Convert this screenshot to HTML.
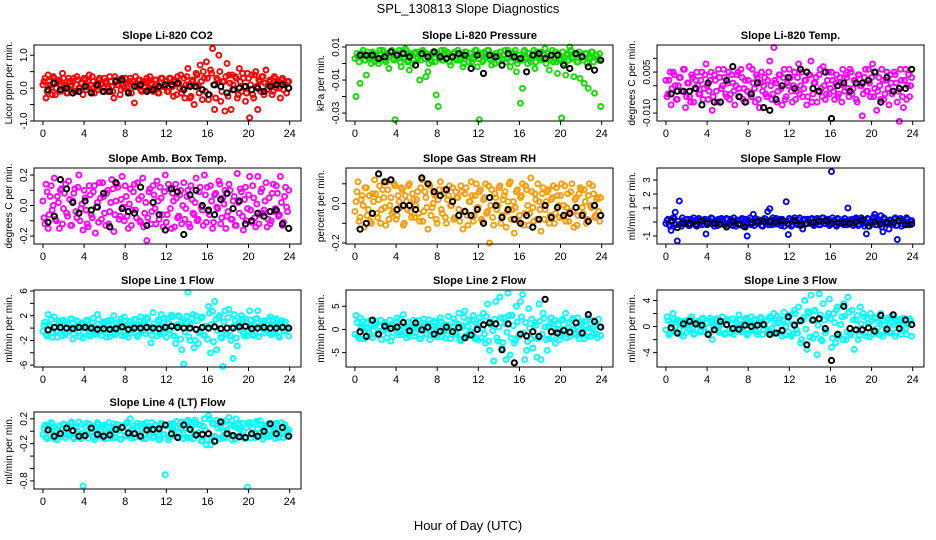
<!DOCTYPE html>
<html><head><meta charset="utf-8"><style>
html,body{margin:0;padding:0;background:#fff;}
svg{display:block;font-family:"Liberation Sans",sans-serif;}
</style></head><body>
<svg id="chart" width="936" height="540" viewBox="0 0 936 540" xmlns="http://www.w3.org/2000/svg">
<rect x="0" y="0" width="936" height="540" fill="#fff"/>
<text x="468" y="13" text-anchor="middle" font-size="13">SPL_130813  Slope Diagnostics</text>
<text x="468" y="530" text-anchor="middle" font-size="13">Hour of Day (UTC)</text>
</svg>
<script>
const hoursColored = [0.1,0.3,0.5,0.7,0.9,1.1,1.3,1.5,1.7,1.9,2.1,2.3,2.5,2.7,2.9,3.1,3.3,3.5,3.7,3.9,4.1,4.3,4.5,4.7,4.9,5.1,5.3,5.5,5.7,5.9,6.1,6.3,6.5,6.7,6.9,7.1,7.3,7.5,7.7,7.9,8.1,8.3,8.5,8.7,8.9,9.1,9.3,9.5,9.7,9.9,10.1,10.3,10.5,10.7,10.9,11.1,11.3,11.5,11.7,11.9,12.1,12.3,12.5,12.7,12.9,13.1,13.3,13.5,13.7,13.9,14.1,14.3,14.5,14.7,14.9,15.1,15.3,15.5,15.7,15.9,16.1,16.3,16.5,16.7,16.9,17.1,17.3,17.5,17.7,17.9,18.1,18.3,18.5,18.7,18.9,19.1,19.3,19.5,19.7,19.9,20.1,20.3,20.5,20.7,20.9,21.1,21.3,21.5,21.7,21.9,22.1,22.3,22.5,22.7,22.9,23.1,23.3,23.5,23.7,23.9];
const hoursColored2 = [0.0,0.2,0.4,0.6,0.8,1.0,1.2,1.4,1.6,1.8,2.0,2.2,2.4,2.6,2.8,3.0,3.2,3.4,3.6,3.8,4.0,4.2,4.4,4.6,4.8,5.0,5.2,5.4,5.6,5.8,6.0,6.2,6.4,6.6,6.8,7.0,7.2,7.4,7.6,7.8,8.0,8.2,8.4,8.6,8.8,9.0,9.2,9.4,9.6,9.8,10.0,10.2,10.4,10.6,10.8,11.0,11.2,11.4,11.6,11.8,12.0,12.2,12.4,12.6,12.8,13.0,13.2,13.4,13.6,13.8,14.0,14.2,14.4,14.6,14.8,15.0,15.2,15.4,15.6,15.8,16.0,16.2,16.4,16.6,16.8,17.0,17.2,17.4,17.6,17.8,18.0,18.2,18.4,18.6,18.8,19.0,19.2,19.4,19.6,19.8,20.0,20.2,20.4,20.6,20.8,21.0,21.2,21.4,21.6,21.8,22.0,22.2,22.4,22.6,22.8,23.0,23.2,23.4,23.6,23.8];
const hoursBlack = [0.5,1.1,1.7,2.3,2.9,3.5,4.1,4.7,5.3,5.9,6.5,7.1,7.7,8.3,8.9,9.5,10.1,10.7,11.3,11.9,12.5,13.1,13.7,14.3,14.9,15.5,16.1,16.7,17.3,17.9,18.5,19.1,19.7,20.3,20.9,21.5,22.1,22.7,23.3,23.9];
const xTicks = [0,4,8,12,16,20,24];

const co2Vals = [0.2,-0.3,0.4,0.1,-0.2,0.3,0.0,0.2,-0.1,0.45, 0.1,-0.15,0.3,0.05,0.2,-0.1,0.35,0.0,0.15,-0.2, 0.25,0.05,0.4,-0.1,0.2,0.1,-0.05,0.3,0.15,0.0, 0.2,-0.1,0.35,0.05,-0.3,0.25,0.1,-0.2,0.3,0.0, 0.15,-0.1,0.3,0.2,-0.45,0.1,0.25,-0.05,0.2,0.05, 0.3,0.0,0.15,-0.1,0.25,0.1,-0.15,0.3,0.05,0.2, -0.1,0.3,0.1,-0.25,0.2,0.35,0.0,-0.15,0.3,0.1, 0.6,-0.3,0.2,-0.5,0.45,0.1,0.7,-0.35,0.3,0.8, -0.35,0.55,1.2,-0.65,0.3,1.0,-0.4,0.2,-0.7,0.75, 0.4,-0.65,0.1,0.35,-0.3,0.6,-0.1,0.3,-0.4,0.45, -0.9,0.4,-0.3,0.5,-0.65,0.2,0.35,-0.2,0.55,0.1, 0.25,-0.2,0.35,0.0,0.2,-0.3,0.3,0.1,-0.15,0.2];
const co2Vals2 = [0.1,0.3,-0.1,0.2,0.0,0.35,-0.2,0.15,0.25,-0.05, 0.3,0.05,-0.15,0.2,0.1,0.3,-0.1,0.25,0.0,0.15, 0.3,-0.05,0.2,0.1,0.35,-0.15,0.05,0.25,0.1,-0.1, 0.3,0.15,0.0,0.2,-0.1,0.35,0.1,0.25,-0.05,0.15, 0.3,0.0,0.2,-0.15,0.1,0.35,0.05,0.25,-0.1,0.15, 0.2,-0.05,0.35,0.1,0.0,0.25,-0.15,0.15,0.3,0.05, 0.2,-0.1,0.3,0.05,0.25,-0.2,0.15,0.4,0.0,-0.3, 0.35,0.1,-0.25,0.25,0.05,0.4,-0.15,0.2,0.5,-0.1, 0.3,-0.2,0.45,0.1,-0.3,0.25,0.5,-0.1,0.2,0.35, -0.25,0.15,0.4,-0.05,0.3,-0.2,0.2,0.45,0.05,-0.15, 0.3,0.1,-0.2,0.4,0.05,0.25,-0.1,0.35,0.15,-0.05, 0.2,0.1,-0.1,0.3,0.15,0.0,0.25,-0.05,0.1,0.2];
const co2Black = [-0.05,0.15,-0.05,0.0,-0.15,-0.1,0.05,-0.15,0.1,-0.1,-0.1,0.2,0.25,-0.15,0.05,0.1,-0.1,-0.05,0.05,0.1,0.1,0.15,-0.05,0.05,0.05,-0.05,-0.2,0.1,0.05,-0.15,-0.05,0.0,0.05,-0.05,0.0,-0.1,0.05,0.1,0.1,0.0];

const pressMilli = [-20,4,-12,6,2,-7,5,3,7,1, 4,0,6,8,2,5,-3,7,3,-34, 5,8,-2,3,9,1,-4,6,2,7, 3,-10,5,7,-8,-5,4,1,6,-19, -26,5,2,8,3,6,-1,4,7,2, 5,3,-2,7,4,1,6,3,8,-2, -34,5,2,6,8,3,-1,4,6,2, 7,3,5,1,8,-2,4,6,-5,2, -24,-15,8,3,6,1,5,-3,7,4, 2,6,9,3,-4,5,1,7,-6,2, -33,4,-7,6,10,3,-8,5,1,-9, 4,-12,6,-15,3,7,-18,5,2,-26];
const pressMilli2 = [3,6,1,5,8,2,7,4,0,6, 5,2,8,3,7,1,6,4,8,2, 6,3,1,7,4,8,2,5,0,6, 4,7,2,8,3,6,0,5,7,1, 6,3,8,2,5,7,1,4,6,3, 8,2,5,0,7,4,6,1,5,8, 3,6,1,7,4,8,2,5,0,6, 4,7,2,8,3,5,1,6,8,0, 5,2,7,4,0,6,3,8,1,5, 7,3,5,0,6,2,8,4,1,6, 3,7,0,5,2,8,4,6,1,7, 5,2,6,0,4,7,1,5,3,6];
const pressBlackMilli = [5,5,5,3,4,7,5,6,4,-1,6,4,7,4,3,4,6,5,-3,5,-6,5,4,-1,6,4,3,-5,5,6,3,5,5,-1,-3,6,4,-2,-4,2];

const tempMilli = [-4,2,-7,5,0,-5,3,-2,6,-8, 1,-4,4,-6,2,0,-3,5,-1,8, -5,2,-9,4,-2,6,-6,0,3,-4, 5,-3,1,-7,4,-1,6,-5,2,-2, 7,-4,1,-6,3,-8,5,0,-3,2, 9,-5,14,1,-2,4,-7,6,-4,0, 3,-6,5,-2,8,0,-4,2,-7,4, 9,-3,1,-6,4,-1,7,-5,2,-3, 5,-2,1,-4,3,-6,0,4,-1,6, -3,2,-5,4,0,-11,3,-2,6,-4, 8,-1,-9,3,-5,2,-3,5,-7,1, -2,4,-6,-13,2,-8,6,0,-4,3];
const tempMilli2 = [2,-3,5,-1,4,-5,0,3,-2,6, -4,1,-6,3,-1,5,-3,2,-5,4, 0,-2,5,-4,2,-6,3,-1,6,-3, 1,-5,4,-2,0,5,-4,3,-1,-6, 2,-3,6,-1,4,-5,1,-2,3,-4, 5,0,-3,2,-6,4,-1,3,-5,1, 6,-2,0,-5,3,-3,5,-1,2,-4, 4,-6,1,3,-2,6,-4,0,-3,5, -1,2,-5,4,-3,1,6,-2,3,-4, 5,-1,2,-6,4,0,-3,6,-2,1, 3,-4,5,-2,0,6,-5,2,-1,4, -3,5,1,-2,6,-4,2,-5,4,0];
const tempBlackMilli = [-3,-2,-2,-2,-1,-7,1,-6,-6,2,7,-4,-6,-3,1,-8,-9,-5,0,3,-1,6,5,-1,-2,5,-12,0,1,-2,1,1,2,5,-6,3,-2,-1,-1,6];

const ambCenti = [-8,14,-15,6,-3,18,-10,2,10,-12, 8,-5,16,-13,3,11,-8,20,-2,-16, 5,-12,13,-6,9,-18,2,15,-9,6, -13,10,-4,17,-17,3,12,-7,19,-10, 6,-15,11,-3,14,-8,4,-11,18,-5, -23,9,-12,13,-2,16,-9,5,-14,20, -6,11,-15,3,14,-8,7,-12,15,-2, 10,-14,4,-6,18,-9,12,-3,20,-11, -4,13,-15,7,-1,16,-12,5,10,-7, 14,-9,3,-13,21,-5,9,-16,12,-2, 19,-11,5,-14,19,-6,11,-3,15,-9, -12,8,-4,13,-7,19,-13,6,-1,10];
const ambCenti2 = [3,-12,9,-6,13,0,-9,6,-15,11, -2,14,-7,4,-13,8,-4,12,-10,1, 10,-3,-14,7,-8,13,-1,-11,5,15, -5,8,-12,2,11,-6,14,-9,4,-1, 13,-7,1,-13,9,-3,15,-10,6,-14, 2,-8,11,-4,7,-12,3,12,-6,9, -11,14,-2,8,-14,5,-7,10,0,-9, 6,-12,13,-5,2,-10,9,-1,-13,7, 12,-6,3,-11,8,-2,14,-8,1,-15, -4,10,-9,6,-13,2,11,-7,4,-10, 7,-3,13,-8,1,-12,9,-5,3,-14, 5,-10,14,-2,8,-6,2,-11,12,-4];
const ambBlackCenti = [-11,-7,17,11,2,-5,3,-3,-1,8,-14,15,-2,-4,-5,12,-13,2,-6,-16,11,9,-19,7,10,0,-3,-6,4,8,-2,3,-12,-10,-5,-7,-4,-3,-12,-15];

const rhCenti = [1,11,-7,4,-12,8,-3,-9,5,12, -5,2,-10,7,-2,11,-8,3,-4,9, -6,1,8,-11,4,-3,10,-7,2,-1, 6,-9,12,-4,3,-13,9,-2,5,-8, 2,11,-5,7,-10,4,-1,8,-7,3, -3,9,-13,5,-6,1,11,-9,4,-2, 6,-8,2,10,-4,-20,7,-11,3,-1, 9,-6,4,-12,1,11,-3,-15,6,-9, 3,10,-5,7,-11,13,-2,5,-8,1, -14,8,-3,6,-10,2,9,-5,4,-7, 10,-1,-9,5,-4,10,-12,3,-6,8, -2,7,-10,4,-1,9,-7,2,-4,3];
const rhCenti2 = [-4,6,-9,2,-1,8,-6,4,-10,1, 5,-7,9,-3,3,-11,7,-1,-5,10, -8,4,-2,7,-10,1,9,-4,5,-7, 2,-5,8,-9,6,-2,10,-6,0,4, -10,7,-3,5,-7,2,9,-1,-8,6, 3,-9,6,-4,8,-11,1,4,-6,10, -2,7,-9,3,-5,9,-1,-7,5,-3, 8,-10,2,6,-4,10,-8,1,-2,7, -6,4,-11,9,-1,-5,6,-9,2,10, -3,5,-8,1,7,-6,3,-10,8,-1, 4,-7,9,-2,-9,6,-4,2,-11,5, 7,-5,1,-8,10,-2,5,-6,3,-9];
const rhBlackCenti = [-13,-10,-5,15,11,12,-3,-1,-1,-3,13,10,6,4,7,1,-6,-4,-6,-3,-10,3,-1,-7,-3,-8,-10,-6,-12,-8,-1,-7,-2,-6,-5,-2,-6,-9,-1,-6];

const sampleVals = [0.1,-0.2,-0.6,0.3,0.7,-1.35,1.5,-0.3,0.1,-0.1, 0.2,-0.25,0.1,0.3,-0.15,0.05,0.2,-0.2,0.1,-0.85, 0.15,-0.1,0.25,-0.3,0.05,0.2,-0.15,0.1,-0.2,0.25, -0.1,0.2,-0.25,0.05,0.15,-0.2,0.1,-0.3,0.2,-1.0, 0.1,-0.2,0.55,0.25,-0.1,0.15,-0.25,0.05,0.2,0.75, 0.95,-0.2,0.1,0.25,-0.15,0.05,0.2,-0.3,1.45,-0.9, 0.1,-0.2,0.3,-0.1,0.15,-0.25,-0.5,0.2,-0.1,0.05, 0.2,-0.15,0.1,0.25,-0.2,0.05,0.3,-0.1,0.15,-0.25, 3.6,0.1,-0.2,0.25,-0.1,0.15,-0.2,0.05,1.0,-0.15, 0.2,-0.1,0.3,-0.25,0.1,0.05,-0.3,-0.85,0.2,-0.1, 0.25,0.55,-0.2,0.1,0.45,-0.7,0.2,-0.15,-0.5,0.1, -0.2,0.3,-1.25,0.05,-0.3,0.15,-0.1,0.2,-0.2,0.1];
const sampleVals2 = [-0.1,0.2,-0.3,0.1,0.25,-0.2,0.05,-0.15,0.3,0.0, 0.15,-0.25,0.2,-0.05,0.1,-0.3,0.25,0.0,-0.15,0.2, -0.2,0.1,0.3,-0.1,0.05,-0.25,0.15,0.25,-0.05,-0.2, 0.2,-0.15,0.0,0.3,-0.3,0.1,-0.1,0.25,0.05,-0.2, 0.15,0.3,-0.1,-0.25,0.2,0.0,0.1,-0.3,0.25,-0.05, -0.2,0.15,0.3,-0.15,0.05,0.2,-0.25,0.1,0.0,-0.1, 0.25,-0.3,0.15,0.05,-0.2,0.3,-0.05,0.1,-0.15,0.2, -0.1,0.25,-0.25,0.0,0.15,-0.2,0.3,-0.1,0.05,0.2, -0.15,0.3,0.0,-0.3,0.2,-0.05,0.1,0.25,-0.2,0.15, 0.05,-0.25,0.2,0.1,-0.15,0.3,-0.1,0.0,0.25,-0.3, 0.1,0.35,-0.2,0.2,0.05,-0.35,0.3,0.0,-0.1,0.15, -0.05,0.2,-0.25,0.1,0.25,-0.15,0.0,0.3,-0.2,0.05];
const sampleBlack = [0.1,-0.4,-0.1,-0.1,-0.2,0.1,-0.1,-0.1,-0.15,-0.35,0.05,-0.15,-0.35,-0.05,0.05,0.05,0.0,0.0,0.1,-0.15,0.1,-0.2,-0.1,-0.05,0.05,0.1,-0.1,-0.05,-0.05,-0.1,0.0,0.15,-0.3,0.0,-0.15,-0.05,0.0,0.1,-0.2,-0.15];

const line1Vals = [0.5,-1.0,2.2,0.3,-1.5,1.8,-0.5,1.2,0.0,-1.2, 1.0,-0.8,0.5,1.5,-1.8,0.2,1.2,-0.5,0.8,-1.6, 0.5,1.3,-1.0,0.2,1.6,-0.7,2.2,0.0,-1.2,1.0, -0.3,1.2,-1.4,0.6,2.0,-0.8,0.3,1.0,-1.2,1.8, 0.2,-1.5,1.0,-0.3,1.4,0.5,-1.1,1.8,-0.4,0.9, 1.7,-0.6,-2.4,2.5,0.1,-1.3,1.1,2.2,-0.9,0.4, 1.5,-0.4,2.1,-1.3,-2.5,0.6,1.8,-3.5,-5.8,0.9, 5.8,-2.0,1.6,-3.2,2.0,-2.5,-0.5,1.8,-1.2,0.3, 3.5,-4.0,2.7,4.3,-3.5,1.7,-1.5,-6.2,2.8,-1.0, 3.0,-2.0,-4.9,1.2,-2.9,0.5,2.0,-0.8,1.5,-1.2, 2.8,0.3,-1.2,1.5,2.8,-0.7,0.8,1.2,-0.3,0.5, 1.8,-0.8,0.3,1.5,-1.3,0.6,1.2,-0.5,0.2,-1.3];
const line1Vals2 = [-0.5,1.0,-1.3,0.4,1.4,-0.8,0.2,-1.5,0.9,-0.2, 1.3,-1.1,0.6,-0.4,1.5,-0.9,0.1,1.1,-1.4,0.5, -0.7,1.2,-0.1,-1.3,0.8,0.3,-1.0,1.4,-0.5,0.7, 1.0,-1.5,0.4,1.3,-0.3,-1.1,0.9,-0.6,1.5,0.0, -1.2,0.6,1.1,-0.8,0.2,1.4,-1.4,0.5,-0.3,1.2, -0.9,1.5,0.1,-1.2,0.7,-0.5,1.3,-1.0,0.3,1.6, -1.5,0.8,-0.2,1.8,-1.3,0.4,2.0,-1.8,1.0,-0.6, 1.9,-1.4,0.5,2.2,-2.0,1.2,-0.8,1.6,-1.1,0.3, -1.8,2.4,0.6,-2.2,1.4,-0.4,2.0,-1.6,1.0,-0.9, 1.7,-1.2,0.2,2.2,-1.6,0.7,-0.3,1.5,-1.3,0.9, -0.6,1.3,-1.0,0.4,1.6,-1.4,0.1,1.1,-0.8,0.6, 1.4,-1.1,0.5,-0.3,1.2,-1.5,0.8,-0.4,1.0,0.0];
const line1Black = [-0.3,0.1,0.1,0.0,-0.1,0.1,0.1,0.0,-0.2,-0.1,-0.2,-0.1,0.2,-0.2,0.0,0.0,0.1,0.0,-0.1,0.1,0.3,0.1,0.0,0.0,-0.2,0.1,0.0,0.2,-0.1,0.0,0.0,0.2,0.3,-0.1,0.0,0.1,0.0,0.0,0.1,0.0];

const line2Vals = [3.0,-1.5,2.5,0.2,-2.0,1.5,-0.5,2.0,-1.8,0.8, 1.2,-1.0,2.0,-0.3,1.5,-1.8,0.5,-2.5,1.0,0.0, 2.5,-1.2,0.8,3.2,-0.5,1.5,-1.5,0.3,2.0,-0.8, 1.0,-2.0,0.5,2.3,-1.0,1.2,-2.2,0.6,1.8,-1.3, 0.3,2.5,-1.5,1.0,-0.2,2.8,-2.0,0.5,1.5,-1.0, 3.5,-2.5,0.8,4.0,-1.5,2.0,-0.5,3.0,-2.0,0.5, 2.5,-1.8,3.5,-3.0,5.5,-4.5,1.5,-6.8,6.0,-2.5, 7.0,-4.0,2.5,-6.5,7.8,-5.5,3.0,-3.0,5.0,-1.5, 6.0,7.5,-6.5,-4.5,4.5,-2.0,-4.0,1.5,-6.0,5.5, -6.5,3.5,0.5,-4.5,-2.0,2.5,1.2,-3.0,0.0,-2.2, 2.0,-1.0,3.5,0.5,-1.5,2.0,0.0,-0.8,2.5,-1.2, 1.5,-2.0,0.8,2.5,-1.5,0.3,1.8,-1.0,2.2,-1.3];
const line2Vals2 = [-1.0,1.5,-2.0,0.5,1.8,-0.5,0.2,-1.5,1.0,-0.3, 1.8,-1.2,0.6,-2.2,1.2,0.0,-0.8,2.0,-1.6,0.4, 1.4,-0.6,2.2,-1.0,0.3,-1.8,1.6,-0.2,0.9,-1.4, 0.6,1.9,-2.0,0.2,1.2,-0.9,2.1,-1.2,0.0,1.5, -1.6,0.8,1.7,-0.4,-1.9,1.0,0.3,-1.1,2.3,-0.7, 1.2,-2.1,0.4,2.6,-1.3,0.7,-0.5,2.0,-1.5,1.1, -2.3,1.6,0.2,-1.0,2.8,-2.5,1.0,-0.3,2.2,-1.8, 0.5,2.5,-2.8,1.3,-0.6,3.0,-1.9,0.8,-2.4,1.6, -1.2,2.7,-0.8,1.5,-2.6,0.3,2.2,-1.4,0.9,-2.0, 1.8,-1.0,2.4,-2.2,0.6,1.3,-1.7,2.0,-0.5,1.0, -1.3,2.2,0.1,-1.8,1.5,-0.6,2.4,-1.1,0.5,-2.0, 1.0,-0.4,1.8,-1.5,0.3,2.0,-0.9,1.2,-1.8,0.5];
const line2Black = [-0.5,-1.5,2.0,-1.0,0.7,0.2,0.5,1.5,-0.3,1.4,-0.1,0.5,-1.0,-0.4,0.5,-0.5,0.4,-1.8,-1.2,0.0,1.0,1.4,1.2,-4.4,1.2,-7.2,-1.0,-1.4,-0.5,-1.5,6.5,-0.5,-0.8,-0.2,-0.6,1.4,-0.8,3.2,1.7,0.5];

const line3Vals = [1.5,-1.3,0.5,2.0,-0.8,1.0,-0.3,0.8,-1.5,0.2, 1.0,-0.5,1.5,-1.2,0.3,0.8,-0.8,1.2,-0.2,0.5, -1.0,1.3,-2.0,0.5,1.0,-0.6,0.2,1.5,-1.2,0.3, 0.8,-1.0,1.2,-0.4,0.5,1.8,-0.8,0.2,1.0,-1.3, 0.4,1.5,-0.6,1.0,-1.2,0.3,1.3,-0.5,0.8,-1.0, 1.5,-0.3,2.0,-1.0,0.6,1.2,-1.5,2.2,0.0,-0.8, 1.8,-1.2,2.5,-0.5,3.0,-2.5,1.0,4.0,-3.5,2.0, 4.8,-1.8,2.5,-4.3,5.0,-2.0,3.5,-1.0,1.5,4.2, -3.2,2.0,-2.5,3.0,-1.5,1.5,3.5,-2.0,4.5,-1.0, 2.5,-3.5,1.0,-2.0,3.0,-0.5,1.5,-1.5,0.5,2.0, -0.5,1.2,-1.0,0.8,2.0,-1.5,0.3,1.0,-0.8,1.5, 0.2,-1.5,1.0,0.5,-1.2,1.3,-0.3,0.6,1.2,-1.5];
const line3Vals2 = [-0.5,0.9,-1.0,0.3,1.2,-0.7,0.6,-1.2,0.1,0.8, -0.9,0.4,1.1,-0.3,-1.1,0.7,0.2,-0.6,1.3,-0.8, 0.5,-1.2,0.9,0.0,-0.5,1.2,-0.9,0.4,0.7,-1.0, 1.1,-0.4,0.3,-1.2,0.8,-0.1,1.0,-0.7,0.2,1.3, -1.0,0.6,-0.3,1.1,-0.8,0.4,1.4,-1.2,0.1,0.9, -0.6,1.3,-1.1,0.5,1.6,-0.9,0.2,1.0,-1.3,0.7, 1.5,-1.5,0.4,2.0,-1.0,0.8,-2.0,1.4,-0.4,2.3, -1.6,0.9,2.4,-1.2,0.2,1.8,-2.2,1.0,-0.6,2.0, 1.2,-1.8,0.6,2.6,-1.1,0.3,-2.0,1.6,-0.8,2.2, -1.3,1.0,-0.5,1.7,-1.4,0.4,2.0,-0.9,1.2,-1.6, 0.8,-1.1,1.4,-0.2,-1.3,0.9,0.3,-0.7,1.3,-1.0, 0.6,1.2,-0.9,0.2,1.1,-0.6,0.8,-1.2,0.4,0.9];
const line3Black = [-0.2,-1.0,0.4,0.8,0.4,0.2,-1.2,-0.5,0.8,0.3,-0.3,-0.4,0.2,0.0,0.2,0.3,-1.2,-1.0,-0.6,1.5,0.2,0.9,-2.8,1.0,1.2,-0.3,-5.2,-1.2,3.1,-0.3,-0.5,-0.5,-0.2,-0.7,1.7,-0.4,1.8,-0.3,1.0,0.3];

const line4Vals = [0.05,-0.1,0.1,-0.05,0.12,-0.12,0.0,0.08,-0.08,0.04, 0.1,-0.06,0.02,0.13,-0.1,0.06,-0.03,0.15,-0.12,-0.88, 0.08,-0.05,0.12,0.0,-0.1,0.06,0.14,-0.08,0.03,-0.12, 0.1,-0.04,0.07,-0.1,0.12,-0.02,0.05,-0.13,0.09,0.0, 0.12,-0.08,0.2,0.04,-0.1,0.08,-0.05,0.11,-0.12,0.02, 0.14,-0.06,0.07,-0.1,0.1,0.0,-0.14,0.13,-0.05,-0.7, 0.1,-0.1,0.04,0.13,-0.08,0.06,-0.02,0.15,-0.12,0.05, 0.18,-0.1,0.08,-0.05,0.14,-0.02,0.1,-0.15,0.2,-0.22, 0.25,-0.22,0.12,-0.08,0.18,-0.12,0.06,0.14,-0.1,0.02, 0.22,-0.06,0.1,-0.13,0.05,0.12,-0.08,0.0,-0.12,-0.9, 0.1,-0.05,0.14,-0.1,0.04,0.17,-0.08,0.1,-0.03,0.12, -0.06,0.08,0.0,0.13,-0.1,0.06,-0.04,0.11,-0.08,0.02];
const line4Vals2 = [-0.05,0.1,-0.12,0.06,0.14,-0.08,0.02,-0.14,0.09,-0.02, 0.12,-0.1,0.04,-0.06,0.15,-0.12,0.07,0.0,-0.09,0.11, -0.03,0.13,-0.11,0.05,0.08,-0.14,0.01,0.12,-0.06,0.09, 0.03,-0.12,0.14,-0.04,0.06,-0.1,0.11,0.02,-0.13,0.08, -0.07,0.15,0.0,-0.11,0.09,-0.03,0.13,-0.09,0.05,0.12, -0.12,0.07,-0.02,0.14,-0.08,0.1,0.03,-0.13,0.11,-0.05, 0.09,-0.14,0.12,0.01,-0.07,0.16,-0.11,0.06,-0.03,0.13, -0.1,0.15,0.04,-0.12,0.18,-0.06,0.1,-0.16,0.08,0.02, -0.13,0.2,-0.08,0.12,-0.16,0.05,0.15,-0.1,0.0,0.17, -0.05,0.11,-0.14,0.08,0.2,-0.09,0.03,0.13,-0.12,0.06, 0.14,-0.11,0.05,-0.04,0.16,-0.08,0.1,-0.13,0.02,0.09, -0.09,0.12,0.03,-0.12,0.1,-0.05,0.14,-0.1,0.06,-0.02];
const line4Black = [0.02,-0.08,-0.04,0.05,0.01,-0.08,-0.07,0.05,-0.05,-0.08,-0.06,0.03,0.06,-0.03,-0.04,-0.08,0.02,0.03,0.04,0.1,-0.04,-0.1,0.1,0.03,-0.06,-0.05,-0.04,-0.16,0.15,-0.04,-0.07,-0.09,-0.1,-0.04,-0.08,0.0,0.12,-0.04,0.06,-0.08];

const co2Ticks = [-1,-0.5,0,0.5,1];         const co2Labels = ["-1.0","","0.0","","1.0"];
const pressTicks = [-0.03,-0.02,-0.01,0,0.01]; const pressLabels = ["-0.03","","-0.01","","0.01"];
const tempTicks = [-0.01,-0.005,0,0.005,0.01]; const tempLabels = ["-0.010","","","0.005",""];
const ambTicks = [-0.2,-0.1,0,0.1,0.2];     const ambLabels = ["-0.2","","0.0","","0.2"];
const rhTicks = [-0.2,-0.1,0,0.1];          const rhLabels = ["-0.2","","0.0",""];
const sampleTicks = [-1,0,1,2,3];           const sampleLabels = ["-1","","1","2","3"];
const line1Ticks = [-6,-4,-2,0,2,4,6];      const line1Labels = ["-6","","-2","","2","","6"];
const line2Ticks = [-5,0,5];                const line2Labels = ["-5","0","5"];
const line3Ticks = [-4,-2,0,2,4];           const line3Labels = ["-4","","0","","4"];
const line4Ticks = [-0.8,-0.6,-0.4,-0.2,0,0.2]; const line4Labels = ["-0.8","","","-0.2","","0.2"];

const NS = "http://www.w3.org/2000/svg";
const svg = document.getElementById('chart');
function mk(tag, attrs, parent) {
  const e = document.createElementNS(NS, tag);
  for (const k in attrs) e.setAttribute(k, attrs[k]);
  (parent || svg).appendChild(e);
  return e;
}
const colX = [34, 346, 657];
const rowY = [45, 168, 290, 412];
const rowH = [76, 76, 77, 77];
const W = 267;
const xMin = -0.87, xMax = 25.1;

function panel(p) {
  const bx = colX[p.col], by = rowY[p.row], bh = rowH[p.row];
  const g = mk('g', {});
  
  
  const xs = h => bx + (h - xMin) / (xMax - xMin) * W;
  const ys = v => by + bh - (v * p.scale - p.ymin) / (p.ymax - p.ymin) * bh;
  const yt = v => by + bh - (v - p.ymin) / (p.ymax - p.ymin) * bh;
  const t = mk('text', {x: bx + W / 2, y: by - 6, 'text-anchor': 'middle', 'font-size': 11, 'font-weight': 'bold'}, g);
  t.textContent = p.title;
  
  
  const pts = mk('g', {fill: 'none'}, g);
  
  
  const drawSet = (hours, vals) => {
    const n = Math.min(hours.length, vals.length);
    for (let i = 0; i < n; i++) {
      const c = mk('circle', {cx: xs(hours[i]).toFixed(1), cy: ys(vals[i]).toFixed(1), r: 2.5, stroke: p.color, 'stroke-width': 1.9}, pts);
      
      
    }
  };
  drawSet(hoursColored2, p.vals2);
  drawSet(hoursColored, p.vals);
  const bpts = mk('g', {fill: 'none'}, g);
  
  
  const m = Math.min(hoursBlack.length, p.blk.length);
  for (let i = 0; i < m; i++) {
    const c = mk('circle', {cx: xs(hoursBlack[i]).toFixed(1), cy: ys(p.blk[i]).toFixed(1), r: 2.6, stroke: '#000', 'stroke-width': 2}, bpts);
    
    
  }
  const box = mk('rect', {x: bx, y: by, width: W, height: bh, fill: 'none', stroke: '#000', 'stroke-width': 1}, g);
  
  
  const xa = mk('g', {}, g);
  
  
  mk('line', {x1: xs(xTicks[0]), x2: xs(xTicks[xTicks.length - 1]), y1: by + bh, y2: by + bh, stroke: '#000'}, xa);
  xTicks.forEach(v => {
    mk('line', {x1: xs(v), x2: xs(v), y1: by + bh, y2: by + bh + 4, stroke: '#000'}, xa);
    const l = mk('text', {x: xs(v), y: by + bh + 16, 'text-anchor': 'middle', 'font-size': 11}, xa);
    l.textContent = v;
    
    
  });
  const ya = mk('g', {}, g);
  
  
  p.ticks.forEach((v, i) => {
    const y = yt(v);
    mk('line', {x1: bx - 4, x2: bx, y1: y, y2: y, stroke: '#000'}, ya);
    if (p.labels[i]) {
      const l = mk('text', {x: bx - 7, y: y, 'text-anchor': 'middle', 'font-size': 10, transform: 'rotate(-90 ' + (bx - 7) + ' ' + y + ')'}, ya);
      l.textContent = p.labels[i];
      
      
    }
  });
  const cy = by + bh / 2;
  const yl = mk('text', {x: bx - 22, y: cy, 'text-anchor': 'middle', 'font-size': 10, transform: 'rotate(-90 ' + (bx - 22) + ' ' + cy + ')'}, g);
  yl.textContent = p.ylab;
  
  
}

panel({name: 'co2', title: 'Slope Li-820 CO2', ylab: 'Licor ppm per min.', col: 0, row: 0, ymin: -1.0, ymax: 1.31, scale: 1, vals: co2Vals, vals2: co2Vals2, blk: co2Black, color: '#ff0000', ticks: co2Ticks, labels: co2Labels});
panel({name: 'pressure', title: 'Slope Li-820 Pressure', ylab: 'kPa per min.', col: 1, row: 0, ymin: -0.0348, ymax: 0.0112, scale: 0.001, vals: pressMilli, vals2: pressMilli2, blk: pressBlackMilli, color: '#11dd00', ticks: pressTicks, labels: pressLabels});
panel({name: 'temp', title: 'Slope Li-820 Temp.', ylab: 'degrees C per min.', col: 2, row: 0, ymin: -0.0129, ymax: 0.0149, scale: 0.001, vals: tempMilli, vals2: tempMilli2, blk: tempBlackMilli, color: '#ff00ff', ticks: tempTicks, labels: tempLabels});
panel({name: 'amb-box-temp', title: 'Slope Amb. Box Temp.', ylab: 'degrees C per min.', col: 0, row: 1, ymin: -0.252, ymax: 0.246, scale: 0.01, vals: ambCenti, vals2: ambCenti2, blk: ambBlackCenti, color: '#ff00ff', ticks: ambTicks, labels: ambLabels});
panel({name: 'gas-rh', title: 'Slope Gas Stream RH', ylab: 'percent per min.', col: 1, row: 1, ymin: -0.205, ymax: 0.18, scale: 0.01, vals: rhCenti, vals2: rhCenti2, blk: rhBlackCenti, color: '#ff9a00', ticks: rhTicks, labels: rhLabels});
panel({name: 'sample-flow', title: 'Slope Sample Flow', ylab: 'ml/min per min.', col: 2, row: 1, ymin: -1.57, ymax: 3.86, scale: 1, vals: sampleVals, vals2: sampleVals2, blk: sampleBlack, color: '#0000ff', ticks: sampleTicks, labels: sampleLabels});
panel({name: 'line1-flow', title: 'Slope Line 1 Flow', ylab: 'ml/min per min.', col: 0, row: 2, ymin: -6.3, ymax: 6.16, scale: 1, vals: line1Vals, vals2: line1Vals2, blk: line1Black, color: '#00ffff', ticks: line1Ticks, labels: line1Labels});
panel({name: 'line2-flow', title: 'Slope Line 2 Flow', ylab: 'ml/min per min.', col: 1, row: 2, ymin: -8.1, ymax: 8.5, scale: 1, vals: line2Vals, vals2: line2Vals2, blk: line2Black, color: '#00ffff', ticks: line2Ticks, labels: line2Labels});
panel({name: 'line3-flow', title: 'Slope Line 3 Flow', ylab: 'ml/min per min.', col: 2, row: 2, ymin: -6.2, ymax: 5.6, scale: 1, vals: line3Vals, vals2: line3Vals2, blk: line3Black, color: '#00ffff', ticks: line3Ticks, labels: line3Labels});
panel({name: 'line4-flow', title: 'Slope Line 4 (LT) Flow', ylab: 'ml/min per min.', col: 0, row: 3, ymin: -0.93, ymax: 0.31, scale: 1, vals: line4Vals, vals2: line4Vals2, blk: line4Black, color: '#00ffff', ticks: line4Ticks, labels: line4Labels});
</script>
</body></html>
